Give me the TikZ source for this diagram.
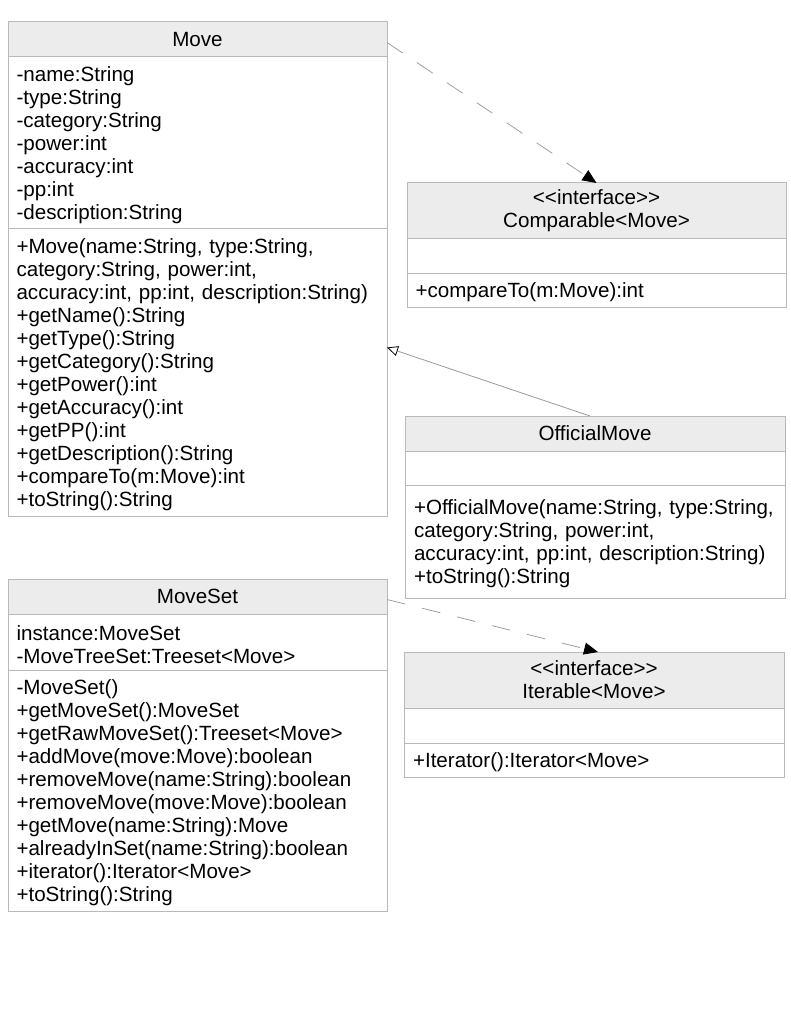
\documentclass[tikz,border=0pt]{standalone}
\usepackage{fontspec}
\setmainfont{Liberation Sans}[Ligatures=TeXOff]
\usetikzlibrary{arrows.meta,positioning}
\definecolor{umlline}{RGB}{185,185,185}
\definecolor{umlfill}{RGB}{236,236,236}
\newcommand{\umlfont}{\fontsize{20.6}{23}\selectfont}
\tikzset{
    umlhead/.style={draw=umlline, fill=umlfill, line width=1pt, minimum width=379pt, text width=362pt,
                    inner xsep=8.5pt, inner ysep=2pt, outer sep=0pt, align=center, font=\umlfont},
    umlpart/.style={draw=umlline, fill=white, line width=1pt, minimum width=379pt, text width=362pt,
                    inner xsep=8.5pt, inner ysep=2pt, outer sep=0pt, align=left, font=\umlfont,
                    execute at begin node={\rule{0pt}{19.5pt}}},
    realize/.style={draw=gray!75, line width=0.8pt, dash pattern=on 19pt off 17pt,
                    -{Triangle[color=black, length=14pt, width=12pt]}},
    inherit/.style={draw=gray!80, line width=0.8pt,
                    -{Triangle[open, color=black, length=11pt, width=10pt]}},
}

\begin{document}
\begin{tikzpicture}[x=1pt, y=-1pt]
    \useasboundingbox (0,0) rectangle (791,1024);

    % Move
    \node[umlhead, anchor=north west, minimum height=35pt] (MoveH) at (8,22) {Move};
    \node[umlpart, below=0pt of MoveH, minimum height=172pt] (MoveA) {-name:String\\-type:String\\-category:String\\-power:int\\-accuracy:int\\-pp:int\\-description:String};
    \node[umlpart, below=0pt of MoveA, minimum height=287pt] (MoveM) {+Move(name:String, type:String,\\category:String, power:int,\\accuracy:int, pp:int, description:String)\\+getName():String\\+getType():String\\+getCategory():String\\+getPower():int\\+getAccuracy():int\\+getPP():int\\+getDescription():String\\+compareTo(m:Move):int\\+toString():String};

    % Comparable
    \node[umlhead, anchor=north west, minimum height=55pt] (CompH) at (407,183) {<<interface>>\\Comparable<Move>};
    \node[umlpart, below=0pt of CompH, minimum height=35pt] (CompA) {};
    \node[umlpart, below=0pt of CompA, minimum height=34pt] (CompM) {+compareTo(m:Move):int};

    % OfficialMove
    \node[umlhead, anchor=north west, minimum width=380pt, minimum height=35pt] (OffH) at (405,416) {OfficialMove};
    \node[umlpart, below=0pt of OffH, minimum width=380pt, minimum height=34pt] (OffA) {};
    \node[umlpart, below=0pt of OffA, minimum width=380pt, minimum height=113pt] (OffM) {+OfficialMove(name:String, type:String,\\category:String, power:int,\\accuracy:int, pp:int, description:String)\\+toString():String};

    % MoveSet
    \node[umlhead, anchor=north west, minimum height=35pt] (SetH) at (8,579) {MoveSet};
    \node[umlpart, below=0pt of SetH, minimum height=56pt] (SetA) {instance:MoveSet\\-MoveTreeSet:Treeset<Move>};
    \node[umlpart, below=0pt of SetA, minimum height=241pt] (SetM) {-MoveSet()\\+getMoveSet():MoveSet\\+getRawMoveSet():Treeset<Move>\\+addMove(move:Move):boolean\\+removeMove(name:String):boolean\\+removeMove(move:Move):boolean\\+getMove(name:String):Move\\+alreadyInSet(name:String):boolean\\+iterator():Iterator<Move>\\+toString():String};

    % Iterable
    \node[umlhead, anchor=north west, minimum width=380pt, minimum height=56pt] (IterH) at (404,652) {<<interface>>\\Iterable<Move>};
    \node[umlpart, below=0pt of IterH, minimum width=380pt, minimum height=35pt] (IterA) {};
    \node[umlpart, below=0pt of IterA, minimum width=380pt, minimum height=34pt] (IterM) {+Iterator():Iterator<Move>};

    % relations
    \draw[realize] ([yshift=-3pt]MoveH.east) -- (CompH.north);
    \draw[realize] ([yshift=-3pt]SetH.east) -- ([xshift=4pt]IterH.north);
    \draw[inherit] ([xshift=-5pt]OffH.north) -- ([yshift=25pt]MoveM.east);
\end{tikzpicture}
\end{document}
